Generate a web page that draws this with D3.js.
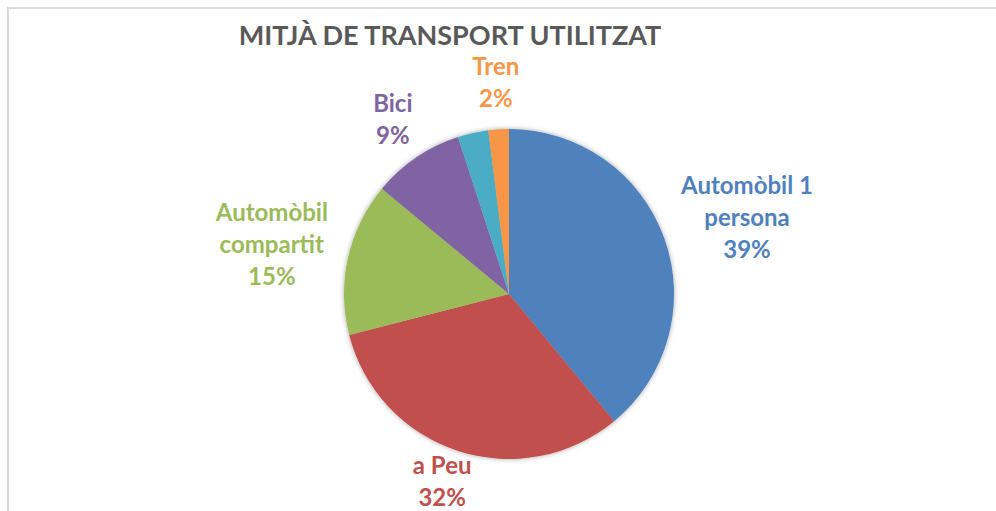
<!DOCTYPE html>
<html>
<head>
<meta charset="utf-8">
<script src="https://cdn.jsdelivr.net/npm/d3@7"></script>
<style>
  html, body { margin: 0; padding: 0; background: #fff; }
  svg { display: block; }
</style>
</head>
<body>
<div id="chart"></div>
<script>
// données du graphique
const categories = ["Automòbil 1 persona", "a Peu", "Automòbil compartit", "Bici", "", "Tren"];
const labelLines = [["Automòbil 1", "persona"], ["a Peu"], ["Automòbil", "compartit"], ["Bici"], [], ["Tren"]];
const values = [39, 32, 15, 9, 3, 2];
const colors = ["#4F81BD", "#C0504D", "#9BBB59", "#8064A2", "#4BACC6", "#F79646"];
const title = "MITJÀ DE TRANSPORT UTILITZAT";

// dimensions
const width = 996, height = 511;
const cx = 509, cy = 294, radius = 165;
const gap = 22;          // distance étiquette / bord du camembert
const lineH = 32;        // interligne des étiquettes
const capH = 18;
const font = "Lato, 'Open Sans', sans-serif";

const svg = d3.select("#chart").append("svg")
  .attr("width", width)
  .attr("height", height);

// ombre légère (style Excel)
const defs = svg.append("defs");
const f = defs.append("filter").attr("id", "shadow")
  .attr("x", "-20%").attr("y", "-20%").attr("width", "140%").attr("height", "140%");
f.append("feDropShadow")
  .attr("dx", 0).attr("dy", 0)
  .attr("stdDeviation", 2.5)
  .attr("flood-color", "#000")
  .attr("flood-opacity", 0.35);

// cadre du graphique
svg.append("rect")
  .attr("x", 8).attr("y", 8)
  .attr("width", width + 20).attr("height", height + 20)
  .attr("fill", "none")
  .attr("stroke", "#d9d9d9")
  .attr("stroke-width", 2);

// titre
svg.append("text")
  .attr("x", 450)
  .attr("y", 45)
  .attr("text-anchor", "middle")
  .style("font-family", font)
  .style("font-weight", 700)
  .style("font-size", "27px")
  .attr("fill", "#595959")
  .text(title);

const data = values.map((v, i) => ({
  category: categories[i],
  lines: labelLines[i],
  value: v,
  color: colors[i]
}));
const total = d3.sum(values);

const pie = d3.pie()
  .sort(null)
  .value(d => d.value);

const arc = d3.arc()
  .innerRadius(0)
  .outerRadius(radius);

const arcs = pie(data);

const g = svg.append("g")
  .attr("transform", `translate(${cx},${cy})`);

g.append("g")
  .attr("filter", "url(#shadow)")
  .selectAll("path")
  .data(arcs)
  .join("path")
    .attr("d", arc)
    .attr("fill", d => d.data.color);

// étiquettes
const labels = g.selectAll("text.lbl")
  .data(arcs.filter(d => d.data.lines.length > 0))
  .join("text")
    .attr("class", "lbl")
    .attr("text-anchor", "middle")
    .style("font-family", font)
    .style("font-weight", 700)
    .style("font-size", "24px")
    .attr("fill", d => d.data.color);

labels.each(function(d) {
  const t = d3.select(this);
  const lines = d.data.lines.concat([Math.round(d.data.value / total * 100) + "%"]);
  lines.forEach(l => t.append("tspan").attr("x", 0).text(l));

  // largeur et hauteur de la boîte
  let w = 0;
  t.selectAll("tspan").each(function() { w = Math.max(w, this.getComputedTextLength()); });
  const h = (lines.length - 1) * lineH + capH;

  const a = (d.startAngle + d.endAngle) / 2;
  const R = radius + gap;
  let bx = R * Math.sin(a) + (w / 2) * Math.sin(a);
  let by = -R * Math.cos(a) - (h / 2) * Math.cos(a);
  // rester dans la zone du graphique
  const maxY = height - 5 - cy - h / 2;
  by = Math.min(by, maxY);

  const first = by - h / 2 + capH;
  t.selectAll("tspan")
    .attr("x", bx)
    .attr("y", (l, i) => first + i * lineH);
});
</script>
</body>
</html>
